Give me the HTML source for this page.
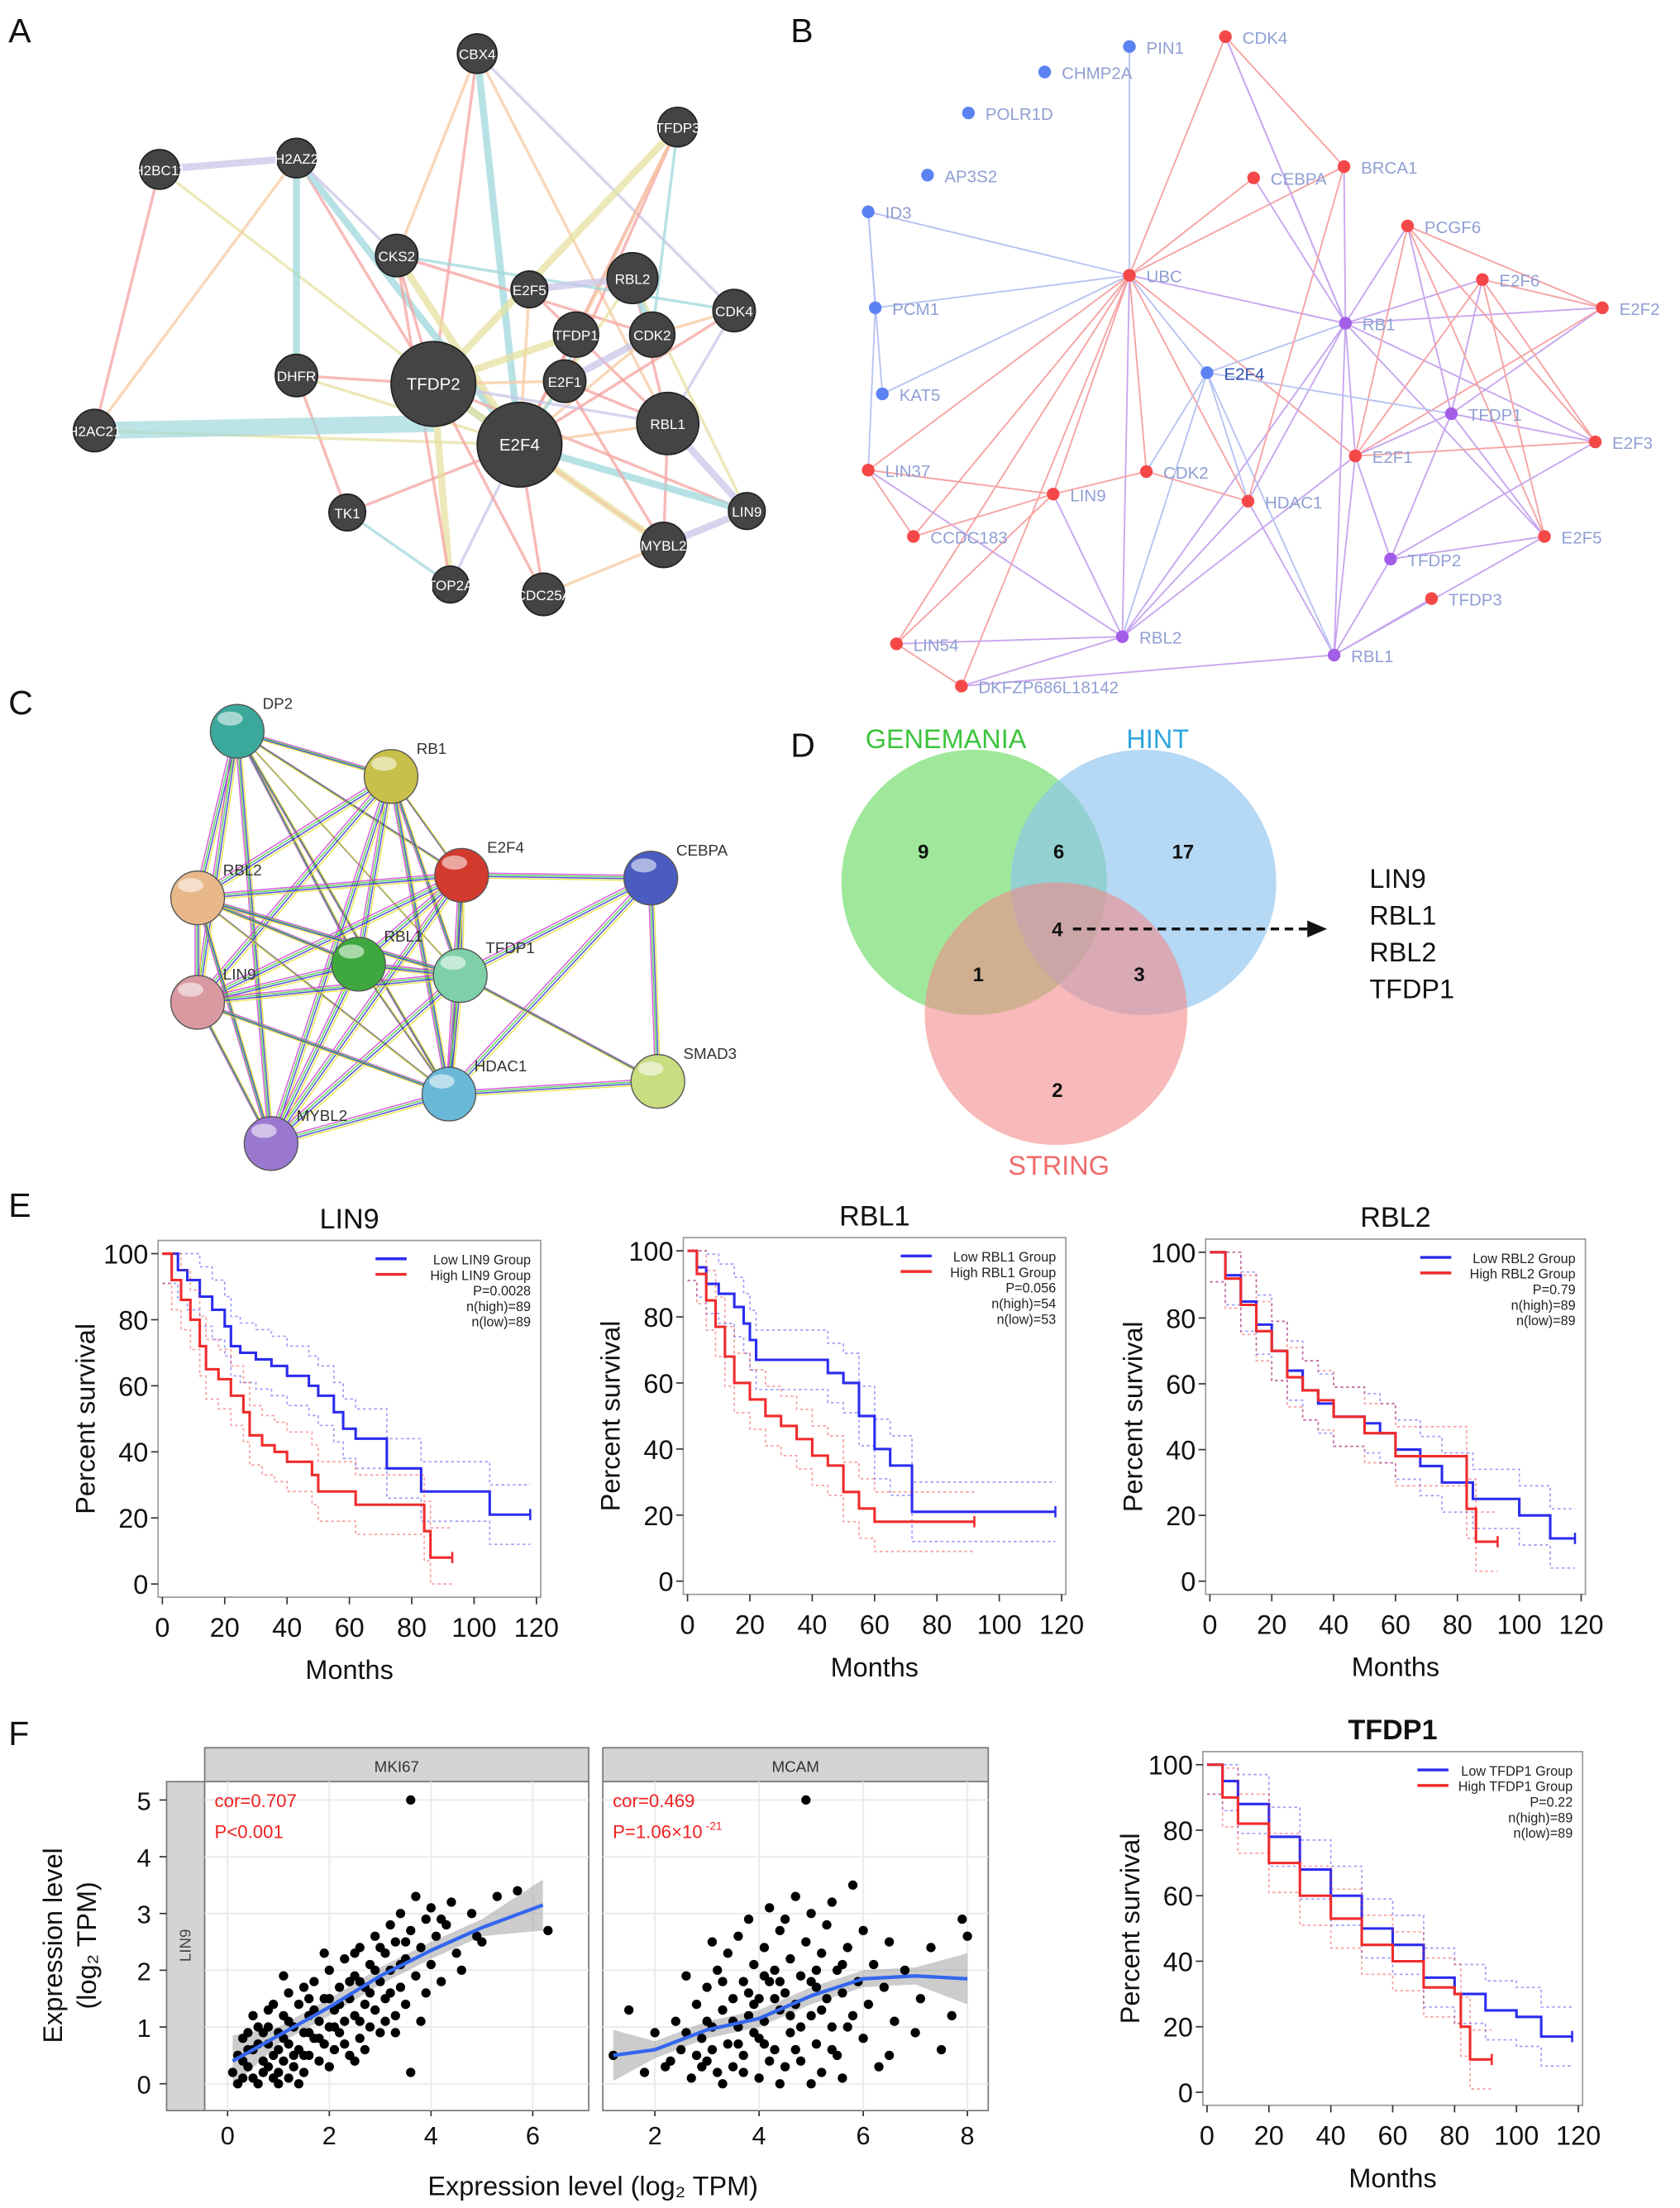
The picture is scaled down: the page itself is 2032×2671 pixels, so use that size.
<!DOCTYPE html>
<html><head><meta charset="utf-8"><style>
html,body{margin:0;padding:0;background:#fff;}
svg{display:block;font-family:"Liberation Sans",Arial,sans-serif;}
</style></head><body>
<svg id="fig" width="2032" height="2671" viewBox="0 0 1190 1564" preserveAspectRatio="none" xmlns="http://www.w3.org/2000/svg">
<g id="panelA"></g>
<g id="panelB"></g>
<g id="panelC"></g>
<g id="panelD">
 <circle cx="690" cy="625" r="94" fill="#7fe07a" fill-opacity="0.75"/>
 <circle cx="810" cy="625" r="94" fill="#8ec3ee" fill-opacity="0.65"/>
 <circle cx="748" cy="718" r="93" fill="#f28b8b" fill-opacity="0.6"/>
 <text x="670" y="530" font-size="19" fill="#3cc43c" text-anchor="middle">GENEMANIA</text>
 <text x="820" y="530" font-size="19" fill="#2ea6e0" text-anchor="middle">HINT</text>
 <text x="750" y="832" font-size="19" fill="#f06a6a" text-anchor="middle">STRING</text>
 <g font-size="14" font-weight="bold" text-anchor="middle" fill="#111">
  <text x="654" y="608">9</text>
  <text x="750" y="608">6</text>
  <text x="838" y="608">17</text>
  <text x="749" y="663">4</text>
  <text x="693" y="695">1</text>
  <text x="807" y="695">3</text>
  <text x="749" y="777">2</text>
 </g>
 <line x1="760" y1="658" x2="928" y2="658" stroke="#111" stroke-width="2" stroke-dasharray="6,4"/>
 <polygon points="940,658 926,652 926,664" fill="#111"/>
 <g font-size="19" fill="#111">
  <text x="970" y="629">LIN9</text>
  <text x="970" y="655">RBL1</text>
  <text x="970" y="681">RBL2</text>
  <text x="970" y="707">TFDP1</text>
 </g>
</g>
<g id="panelE"></g>
<g id="panelF"></g>
<g font-size="24" fill="#111">
 <text x="6" y="30">A</text>
 <text x="560" y="30">B</text>
 <text x="6" y="506">C</text>
 <text x="560" y="536">D</text>
 <text x="6" y="862">E</text>
 <text x="6" y="1236">F</text>
</g>
</svg>
<script>
const NS="http://www.w3.org/2000/svg";
function mk(parent,tag,attrs,text){const e=document.createElementNS(NS,tag);for(const k in attrs)e.setAttribute(k,attrs[k]);if(text!==undefined)e.textContent=text;parent.appendChild(e);return e;}

// ---------- Panel A data ----------
const aNames=["CBX4","TFDP3","H2BC11","H2AZ2","CKS2","E2F5","RBL2","CDK4","TFDP1","CDK2","DHFR","TFDP2","E2F1","RBL1","E2F4","H2AC21","TK1","LIN9","MYBL2","TOP2A","CDC25A"];
const aX=[338,480,113,210,281,375,448,520,408,462,210,307,400,473,368,67,246,529,470,319,385];
const aY=[38,90,120,112,181,205,197,220,237,237,266,272,270,300,315,305,363,362,386,414,421];
const aR=[14,14,14,14,15,13,18,15,16,16,15,30,15,22,30,15,13,13,16,13,15];
const aEdges=[[0,11],[0,14],[0,13],[0,7],[1,14],[1,11],[1,12],[1,9],[1,8],[2,3],[2,15],[2,14],[3,11],[3,14],[3,15],[3,4],[4,11],[4,14],[4,9],[4,7],[5,14],[5,6],[5,13],[6,14],[6,13],[6,9],[7,9],[7,13],[7,14],[8,11],[8,14],[8,12],[9,14],[9,12],[10,11],[10,14],[10,16],[11,14],[11,12],[11,13],[11,17],[11,18],[12,13],[12,14],[13,14],[13,17],[13,18],[14,15],[14,16],[14,17],[14,18],[14,19],[14,20],[11,19],[11,20],[16,19],[18,20],[17,18],[12,18],[6,17],[4,19],[3,10],[0,4]];
const aCol=["#f4a3a0","#9fd8dc","#f5c9a0","#c9c5e8","#f4a3a0","#e6e0a0"];
(function(){const g=document.getElementById("panelA");
aEdges.forEach((e,i)=>{const l=mk(g,"line",{x1:aX[e[0]],y1:aY[e[0]],x2:aX[e[1]],y2:aY[e[1]],stroke:aCol[i%aCol.length],"stroke-width":(i%4===1?5:2),"stroke-opacity":0.75});

});
mk(g,"line",{x1:67,y1:305,x2:307,y2:300,stroke:"#9fd8dc","stroke-width":12,"stroke-opacity":0.7});
aNames.forEach((n,i)=>{const c=mk(g,"circle",{cx:aX[i],cy:aY[i],r:aR[i],fill:"#444",stroke:"#222"});


const t=mk(g,"text",{x:aX[i],y:aY[i]+4,"font-size":(aR[i]>25?12:10),fill:"#fff","text-anchor":"middle"},n);

});})();

// ---------- Panel B data ----------
const bNames=["PIN1","CDK4","CHMP2A","POLR1D","AP3S2","CEBPA","BRCA1","ID3","PCGF6","UBC","E2F6","E2F2","PCM1","RB1","E2F4","KAT5","TFDP1","E2F3","LIN37","CDK2","E2F1","LIN9","HDAC1","CCDC183","E2F5","TFDP2","TFDP3","LIN54","RBL2","RBL1","DKFZP686L18142"];
const bX=[800,868,740,686,657,888,952,615,997,800,1050,1135,620,953,855,625,1028,1130,615,812,960,746,884,647,1094,985,1014,635,795,945,681];
const bY=[33,26,51,80,124,126,118,150,160,195,198,218,218,229,264,279,293,313,333,334,323,350,355,380,380,396,424,456,451,464,486];
const bType=["b","r","b","b","b","r","r","b","r","r","r","r","b","p","b","b","p","r","r","r","r","r","r","r","r","p","r","r","p","p","r"];
const bEdges=[[9,0],[9,1],[9,5],[9,6],[9,13],[9,14],[9,18],[9,19],[9,21],[9,22],[9,23],[9,27],[9,28],[9,30],[9,20],[9,7],[9,12],[9,15],[13,8],[13,10],[13,11],[13,17],[13,24],[13,20],[13,22],[13,28],[13,29],[13,6],[13,1],[16,11],[16,17],[16,24],[16,25],[16,20],[16,10],[16,8],[20,25],[20,29],[20,28],[20,8],[20,10],[20,11],[20,17],[29,25],[29,26],[29,24],[29,22],[28,21],[28,18],[28,27],[28,30],[28,22],[21,18],[21,27],[21,23],[21,19],[14,13],[14,19],[14,22],[14,16],[14,28],[14,29],[1,6],[1,13],[6,22],[8,24],[8,17],[8,11],[10,11],[10,17],[10,24],[25,24],[25,17],[22,19],[18,12],[12,7],[7,15],[5,13],[30,29],[27,30],[23,18]];
const bColor={r:"#f44848",b:"#5b82f2",p:"#a35ee8"};
(function(){const g=document.getElementById("panelB");
bEdges.forEach(e=>{const t=bType[e[0]]==="b"||bType[e[1]]==="b"?"#b7c3f0":(bType[e[0]]==="p"||bType[e[1]]==="p"?"#c7a6ee":"#f6a3a3");
const l=mk(g,"line",{x1:bX[e[0]],y1:bY[e[0]],x2:bX[e[1]],y2:bY[e[1]],stroke:t,"stroke-width":1.1});

});
bNames.forEach((n,i)=>{const c=mk(g,"circle",{cx:bX[i],cy:bY[i],r:4.5,fill:bColor[bType[i]]});


const t=mk(g,"text",{x:bX[i]+12,y:bY[i]+5,"font-size":12,fill:(n==="E2F4"?"#3050b0":"#8f9fd3")},n);

});})();

// ---------- Panel C data ----------
const cNames=["DP2","RB1","E2F4","CEBPA","RBL2","RBL1","TFDP1","LIN9","SMAD3","HDAC1","MYBL2"];
const cX=[168,277,327,461,140,254,326,140,466,318,192];
const cY=[518,550,620,622,636,683,691,710,766,775,810];
const cFill=["#3aa89a","#c8c04a","#d23a2e","#4a5cc0","#e8b88a","#3ea83e","#7fd0a8","#d89aa0","#c8dc80","#6ab8d8","#9a78d0"];
const cEdges=[[0,1],[0,2],[0,4],[0,5],[0,6],[0,7],[0,9],[0,10],[1,2],[1,4],[1,5],[1,6],[1,7],[1,9],[1,10],[2,3],[2,4],[2,5],[2,6],[2,7],[2,9],[2,10],[3,8],[3,9],[3,6],[4,5],[4,6],[4,7],[4,9],[4,10],[5,6],[5,7],[5,9],[5,10],[6,7],[6,9],[6,10],[6,8],[7,9],[7,10],[8,9],[9,10]];
const cLine=["#d13bd1","#3fd03f","#2c2ccf","#e6e033","#3bc6e6","#222"];
(function(){const g=document.getElementById("panelC");
cEdges.forEach(e=>{for(let k=0;k<4;k++){const dx=(k-1.5)*1.2;const l=mk(g,"line",{x1:cX[e[0]]+dx,y1:cY[e[0]]+dx,x2:cX[e[1]]+dx,y2:cY[e[1]]+dx,stroke:cLine[k],"stroke-width":0.9,"stroke-opacity":0.8});

}});
cNames.forEach((n,i)=>{const c=mk(g,"circle",{cx:cX[i],cy:cY[i],r:19,fill:cFill[i],stroke:"#555","stroke-width":0.8});


mk(g,"ellipse",{cx:cX[i]-5,cy:cY[i]-9,rx:9,ry:5,fill:"#fff","fill-opacity":0.55});
const t=mk(g,"text",{x:cX[i]+18,y:cY[i]-16,"font-size":11,fill:"#333"},n);

});})();

// ---------- KM data ----------
const linLowT=[0,5,8,12,16,20,22,25,30,35,40,47,50,55,58,62,72,83,105,118];
const linLowS=[100,95,92,87,83,78,72,70,68,66,63,60,57,52,47,44,35,28,21,21];
const linHighT=[0,3,6,9,12,14,18,22,26,28,32,36,40,48,50,62,82,84,86,93];
const linHighS=[100,92,86,80,72,65,62,57,52,45,42,40,37,33,28,24,24,16,8,8];
const rbl1LowT=[0,3,6,10,15,18,20,22,40,45,50,55,60,65,72,118];
const rbl1LowS=[100,95,90,87,83,78,73,67,67,63,60,50,40,35,21,21];
const rbl1HighT=[0,3,6,9,12,15,20,25,30,35,40,45,50,55,60,92];
const rbl1HighS=[100,93,85,77,68,60,55,50,47,43,38,35,27,22,18,18];
const rbl2LowT=[0,5,10,15,20,25,30,35,40,50,55,60,68,75,85,100,110,118];
const rbl2LowS=[100,93,85,78,70,64,58,54,50,48,45,40,35,30,25,20,13,13];
const rbl2HighT=[0,5,10,15,20,25,30,35,40,50,60,82,83,86,93];
const rbl2HighS=[100,92,84,76,70,62,58,55,50,45,38,38,22,12,12];
const tfLowT=[0,5,10,20,30,40,50,60,70,80,90,100,108,118];
const tfLowS=[100,95,88,78,68,60,50,45,35,30,25,23,17,17];
const tfHighT=[0,5,10,20,30,40,50,60,70,80,82,85,92];
const tfHighS=[100,90,82,70,60,53,45,40,32,30,20,10,10];
const xTicks=[0,20,40,60,80,100,120];
const yTicks=[0,20,40,60,80,100];
const ciWidth=9;

function km(parent,name,box,title,lowT,lowS,highT,highS,legend,titleBold){
 const g=mk(parent,"g",{});
 
 
 const [x0,x1,yTop,yBot]=box;
 const sx=t=>x0+(t/120)*(x1-x0), sy=v=>yBot-(v/100)*(yBot-yTop);
 mk(g,"rect",{x:x0-3,y:sy(104),width:sx(120)-x0+6,height:sy(-4)-sy(104),fill:"none",stroke:"#999","stroke-width":1});
 const tt=mk(g,"text",{x:(x0+x1)/2,y:yTop-18,"font-size":20,"text-anchor":"middle",fill:"#111","font-weight":titleBold?"bold":"normal"},title);
 
 
 xTicks.forEach(t=>{mk(g,"line",{x1:sx(t),y1:sy(-4),x2:sx(t),y2:sy(-4)+5,stroke:"#333"});
  const l=mk(g,"text",{x:sx(t),y:sy(-4)+28,"font-size":19,"text-anchor":"middle",fill:"#111"},t);
  
  });
 yTicks.forEach(v=>{mk(g,"line",{x1:x0-3,y1:sy(v),x2:x0-8,y2:sy(v),stroke:"#333"});
  const l=mk(g,"text",{x:x0-10,y:sy(v)+7,"font-size":19,"text-anchor":"end",fill:"#111"},v);
  
  });
 const xl=mk(g,"text",{x:(x0+x1)/2,y:sy(-4)+58,"font-size":19,"text-anchor":"middle",fill:"#111"},"Months");
 
 
 const yl=mk(g,"text",{x:0,y:0,"font-size":19,"text-anchor":"middle",fill:"#111",transform:`translate(${x0-48},${(yTop+yBot)/2}) rotate(-90)`},"Percent survival");
 
 
 function step(T,S,off){let d="";T.forEach((t,i)=>{const v=Math.max(0,Math.min(100,S[i]+off));d+=(i===0?"M":"H")+sx(t)+(i===0?","+sy(v):" V"+sy(v));});return d;}
 [[lowT,lowS,"#2b2bf0"],[highT,highS,"#f02b2b"]].forEach(([T,S,c],k)=>{
  [ciWidth,-ciWidth].forEach(o=>{const p=mk(g,"path",{d:step(T,S,o),fill:"none",stroke:c,"stroke-opacity":0.45,"stroke-width":1,"stroke-dasharray":"2,2"});
   
   });
  const p=mk(g,"path",{d:step(T,S,0),fill:"none",stroke:c,"stroke-width":1.8});
  
  
  const lt=T[T.length-1],ls=S[S.length-1];
  mk(g,"line",{x1:sx(lt),y1:sy(ls)-4,x2:sx(lt),y2:sy(ls)+4,stroke:c,"stroke-width":1.5});
 });
 const lx=sx(120)-4, ly=sy(104)+10;
 mk(g,"line",{x1:lx-110,y1:ly+3,x2:lx-88,y2:ly+3,stroke:"#2b2bf0","stroke-width":2});
 mk(g,"line",{x1:lx-110,y1:ly+14,x2:lx-88,y2:ly+14,stroke:"#f02b2b","stroke-width":2});
 legend.forEach((s,i)=>{const t=mk(g,"text",{x:lx,y:ly+7+i*11,"font-size":9.5,"text-anchor":"end",fill:"#222"},s);
  
  });
}
const E=document.getElementById("panelE");
km(E,"lin9",[115,380,888,1122],"LIN9",linLowT,linLowS,linHighT,linHighS,["Low LIN9 Group","High LIN9 Group","P=0.0028","n(high)=89","n(low)=89"]);
km(E,"rbl1",[487,752,886,1120],"RBL1",rbl1LowT,rbl1LowS,rbl1HighT,rbl1HighS,["Low RBL1 Group","High RBL1 Group","P=0.056","n(high)=54","n(low)=53"]);
km(E,"rbl2",[857,1120,887,1120],"RBL2",rbl2LowT,rbl2LowS,rbl2HighT,rbl2HighS,["Low RBL2 Group","High RBL2 Group","P=0.79","n(high)=89","n(low)=89"]);
const F=document.getElementById("panelF");
km(F,"tfdp1",[855,1118,1250,1482],"TFDP1",tfLowT,tfLowS,tfHighT,tfHighS,["Low TFDP1 Group","High TFDP1 Group","P=0.22","n(high)=89","n(low)=89"],true);

// ---------- Scatter data ----------
const mkiPts="0.1,0.2 0.2,0.5 0.3,0.1 0.3,0.8 0.4,0.3 0.5,0.6 0.5,0.1 0.6,1.0 0.7,0.4 0.7,0.2 0.8,0.7 0.8,1.3 0.9,0.5 1.0,0.2 1.0,0.9 1.1,1.2 1.1,0.4 1.2,0.7 1.2,1.6 1.3,0.3 1.3,1.0 1.4,0.6 1.4,1.4 1.5,0.9 1.5,0.2 1.6,1.2 1.6,0.5 1.7,1.8 1.7,0.8 1.8,1.1 1.8,0.4 1.9,1.5 1.9,0.7 2.0,1.0 2.0,2.0 2.1,0.6 2.1,1.3 2.2,1.7 2.2,0.9 2.3,1.1 2.3,2.2 2.4,0.5 2.4,1.5 2.5,1.9 2.5,1.2 2.6,0.8 2.6,2.4 2.7,1.4 2.7,1.7 2.8,1.0 2.8,2.1 2.9,2.6 2.9,1.3 3.0,1.8 3.0,0.9 3.1,2.3 3.1,1.5 3.2,2.0 3.2,2.8 3.3,1.2 3.3,2.5 3.4,1.7 3.4,3.0 3.5,2.2 3.5,1.4 3.6,5.0 3.6,2.7 3.7,1.9 3.7,3.3 3.8,2.4 3.8,1.1 3.9,2.9 4.0,2.1 4.0,3.1 4.1,2.6 4.2,1.8 4.3,2.8 4.4,3.2 4.5,2.3 4.6,2.0 4.8,3.0 4.9,2.6 5.0,2.5 5.3,3.3 5.7,3.4 6.3,2.7 0.2,0.0 0.6,0.0 1.0,0.0 0.4,0.9 0.9,1.4 1.5,1.7 2.0,0.3 2.5,0.4 3.0,2.4 1.2,0.1 0.8,0.3 1.6,0.9 2.2,1.4 2.8,1.6 3.3,0.9 3.6,0.2 1.9,2.3 0.5,1.2 1.4,0.0 2.6,1.1 3.9,1.6 4.2,2.9 1.1,0.8 0.3,0.4 0.6,0.7 0.9,0.1 1.3,0.5 1.7,1.3 2.1,1.0 2.4,1.8 2.7,0.6 3.1,1.1 3.4,2.1 0.4,0.6 0.7,0.9 1.0,0.6 1.2,1.1 1.5,0.5 1.8,0.8 2.0,1.5 2.3,0.7 2.9,2.0 3.2,1.6 2.5,2.3 1.6,1.5 0.8,1.0 1.1,1.9 2.6,1.8 3.5,2.5";
const mcamPts="1.2,0.5 1.5,1.3 1.8,0.2 2.0,0.9 2.2,0.3 2.4,1.1 2.5,0.6 2.7,0.1 2.8,1.4 2.9,0.8 3.0,0.4 3.0,1.7 3.1,1.0 3.2,0.2 3.2,2.0 3.3,1.3 3.4,0.7 3.4,2.3 3.5,1.5 3.5,0.3 3.6,1.0 3.6,2.6 3.7,1.8 3.7,0.5 3.8,1.2 3.8,2.9 3.9,2.1 3.9,0.9 4.0,1.5 4.0,0.1 4.1,2.4 4.1,1.1 4.2,1.8 4.2,3.1 4.3,0.6 4.3,2.0 4.4,1.3 4.4,2.7 4.5,0.3 4.5,1.6 4.6,2.2 4.6,0.9 4.7,3.3 4.7,1.4 4.8,1.9 4.8,0.4 4.9,5.0 4.9,2.5 5.0,1.2 5.0,3.0 5.1,1.7 5.1,0.7 5.2,2.3 5.2,0.2 5.3,1.5 5.3,2.8 5.4,1.0 5.5,2.0 5.5,0.5 5.6,1.6 5.7,2.4 5.8,1.2 5.8,3.5 5.9,1.8 6.0,0.8 6.0,2.7 6.1,1.4 6.2,2.1 6.3,0.3 6.4,1.7 6.5,2.5 6.6,1.1 6.8,2.0 7.0,0.9 7.1,1.5 7.3,2.4 7.5,0.6 7.7,1.2 8.0,2.6 7.9,2.9 4.0,0.8 4.4,0.0 3.3,0.0 5.0,0.0 3.8,1.6 4.5,2.9 5.4,3.2 2.6,1.9 3.1,2.5 4.2,0.4 5.6,0.1 6.5,0.5 2.3,0.4 2.6,0.9 2.9,0.3 3.1,0.6 3.3,1.8 3.5,1.1 3.7,0.2 3.9,1.4 4.1,0.7 4.3,1.5 4.6,1.2 4.8,1.0 5.0,1.8 5.2,1.3 5.4,0.6 5.6,2.1 4.1,1.9 3.6,0.7 4.7,0.6 2.8,0.5 3.0,1.1 4.4,1.8 5.1,2.0 5.7,1.0";
const mkiFitX=[0.1,1,2,3,4,5,6.2];
const mkiFitY=[0.4,0.85,1.35,1.9,2.35,2.75,3.15];
const mcamFitX=[1.2,2,3,4,5,6,7,8];
const mcamFitY=[0.5,0.6,0.95,1.15,1.55,1.85,1.9,1.85];
const mkiXTicks=[0,2,4,6], mcamXTicks=[2,4,6,8], sYTicks=[0,1,2,3,4,5];

(function(){
 const g=F, yT=1262, yB=1495;
 const sy=v=>1476-v*40.2;
 mk(g,"rect",{x:118,y:yT,width:27,height:yB-yT,fill:"#d4d4d4",stroke:"#777"});
 const st=mk(g,"text",{x:0,y:0,"font-size":11,fill:"#444","text-anchor":"middle",transform:`translate(135,1378) rotate(-90)`},"LIN9");
 
 
 function facet(name,px0,px1,xmin,xmax,xticks,pts,fx,fy,cor,pv){
  const fg=mk(g,"g",{});
  
  
  const sx=v=>px0+(v-xmin)/(xmax-xmin)*(px1-px0);
  mk(fg,"rect",{x:px0,y:1238,width:px1-px0,height:24,fill:"#d4d4d4",stroke:"#777"});
  mk(fg,"text",{x:(px0+px1)/2,y:1255,"font-size":11,"text-anchor":"middle",fill:"#333"},name);
  mk(fg,"rect",{x:px0,y:yT,width:px1-px0,height:yB-yT,fill:"#fff",stroke:"#777"});
  sYTicks.forEach(v=>{mk(fg,"line",{x1:px0,x2:px1,y1:sy(v),y2:sy(v),stroke:"#ebebeb","stroke-width":1.2});});
  xticks.forEach(v=>{mk(fg,"line",{x1:sx(v),x2:sx(v),y1:yT,y2:yB,stroke:"#ebebeb","stroke-width":1.2});
   mk(fg,"line",{x1:sx(v),x2:sx(v),y1:yB,y2:yB+4,stroke:"#333"});
   const t=mk(fg,"text",{x:sx(v),y:yB+24,"font-size":18,"text-anchor":"middle",fill:"#111"},v);
   
   });
  let up="",lo="";
  fx.forEach((x,i)=>{const w=(i===0||i===fx.length-1)?0.45:0.15;up+=(i?"L":"M")+sx(x)+","+sy(fy[i]+w);});
  for(let i=fx.length-1;i>=0;i--){const w=(i===0||i===fx.length-1)?0.45:0.15;lo+="L"+sx(fx[i])+","+sy(fy[i]-w);}
  mk(fg,"path",{d:up+lo+"Z",fill:"#999","fill-opacity":0.5});
  pts.split(" ").forEach(p=>{const [x,y]=p.split(",").map(Number);const c=mk(fg,"circle",{cx:sx(x),cy:sy(y),r:3.3,fill:"#000"});
   
   });
  let d="";fx.forEach((x,i)=>{d+=(i?"L":"M")+sx(x)+","+sy(fy[i]);});
  const fl=mk(fg,"path",{d:d,fill:"none",stroke:"#3366ee","stroke-width":2.5,"stroke-linejoin":"round"});
  
  
  mk(fg,"text",{x:px0+7,y:1280,"font-size":13,fill:"#f02020"},cor);
  mk(fg,"text",{x:px0+7,y:1302,"font-size":13,fill:"#f02020"},pv);
  return fg;
 }
 facet("MKI67",145,417,-0.45,7.1,mkiXTicks,mkiPts,mkiFitX,mkiFitY,"cor=0.707","P<0.001");
 const mc=facet("MCAM",427,700,1.0,8.4,mcamXTicks,mcamPts,mcamFitX,mcamFitY,"cor=0.469","P=1.06×10");
 mk(mc,"text",{x:500,y:1296,"font-size":8,fill:"#f02020"},"-21");
 sYTicks.forEach(v=>{mk(g,"line",{x1:113,x2:118,y1:sy(v),y2:sy(v),stroke:"#333"});
  const t=mk(g,"text",{x:107,y:sy(v)+7,"font-size":18,"text-anchor":"end",fill:"#111"},v);
  
  });
 const y1=mk(g,"text",{x:0,y:0,"font-size":19,"text-anchor":"middle",fill:"#111",transform:"translate(44,1378) rotate(-90)"},"Expression level");
 
 
 const y2=mk(g,"text",{x:0,y:0,"font-size":19,"text-anchor":"middle",fill:"#111",transform:"translate(68,1378) rotate(-90)"},"(log₂ TPM)");
 
 
 const xt=mk(g,"text",{x:420,y:1555,"font-size":19,"text-anchor":"middle",fill:"#111"},"Expression level (log₂ TPM)");
 
 
})();
</script>
</body></html>
